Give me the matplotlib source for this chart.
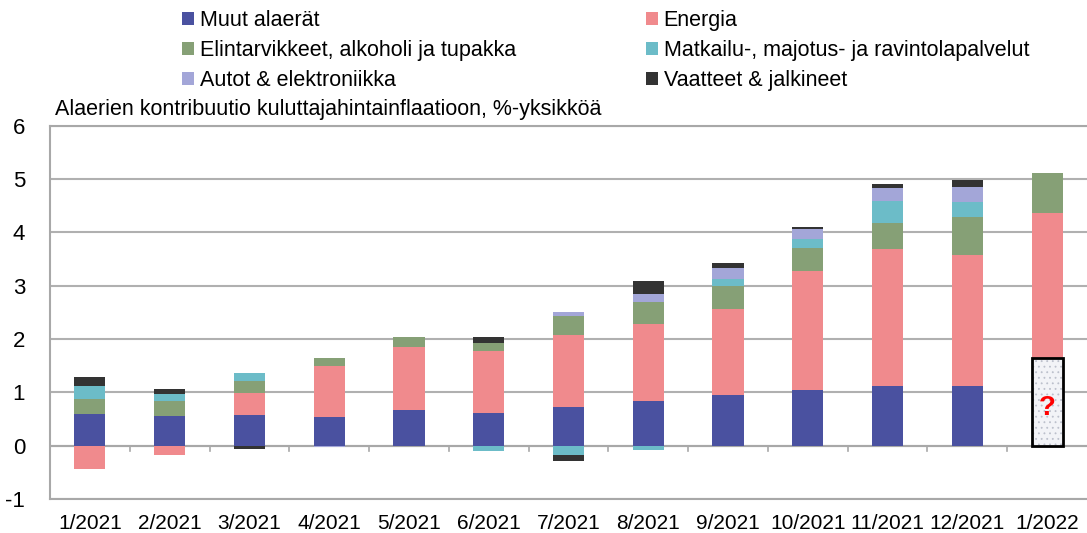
import numpy as np
import matplotlib.pyplot as plt

plt.rcParams['font.family'] = ['Liberation Sans', 'DejaVu Sans']
plt.rcParams['axes.unicode_minus'] = False
plt.rcParams['hatch.linewidth'] = 0.6

# Data (%-points)
months = ["1/2021", "2/2021", "3/2021", "4/2021", "5/2021", "6/2021", "7/2021",
          "8/2021", "9/2021", "10/2021", "11/2021", "12/2021", "1/2022"]

muut = [0.59, 0.55, 0.57, 0.53, 0.66, 0.61, 0.72, 0.84, 0.94, 1.05, 1.11, 1.11, np.nan]
energia = [-0.43, -0.17, 0.41, 0.97, 1.19, 1.16, 1.35, 1.44, 1.62, 2.22, 2.57, 2.46, 2.72]
elintarvikkeet = [0.29, 0.28, 0.24, 0.15, 0.19, 0.16, 0.36, 0.41, 0.44, 0.44, 0.49, 0.71, 0.76]
matkailu = [0.24, 0.13, 0.14, 0.0, 0.0, -0.11, -0.17, -0.08, 0.13, 0.17, 0.42, 0.29, 0.0]
autot = [0.0, 0.0, 0.0, -0.025, 0.0, 0.0, 0.08, 0.16, 0.20, 0.19, 0.25, 0.28, 0.0]
vaatteet = [0.175, 0.105, -0.06, 0.0, 0.0, 0.10, -0.12, 0.24, 0.09, 0.04, 0.06, 0.14, 0.0]
unknown = [np.nan] * 12 + [1.64]  # the "?" block of 1/2022

series = [
    ("Muut alaerät", muut, "#4a51a0"),
    ("Energia", energia, "#f08a8d"),
    ("Elintarvikkeet, alkoholi ja tupakka", elintarvikkeet, "#86a076"),
    ("Matkailu-, majotus- ja ravintolapalvelut", matkailu, "#6cbcc8"),
    ("Autot & elektroniikka", autot, "#a3a6d8"),
    ("Vaatteet & jalkineet", vaatteet, "#333333"),
]

fig = plt.figure(figsize=(10.87, 5.33), dpi=100)
ax = fig.add_axes([0.046, 0.064, 0.954, 0.7])

x = np.arange(len(months))
width = 0.39
pos_base = np.nan_to_num(np.array(unknown, dtype=float))
neg_base = np.zeros(len(months))

# the "?" block sits at the bottom of the last bar: light stipple + black frame
ax.bar(x, unknown, width, color="#f2f3f7", edgecolor="#bcc0cc", linewidth=0,
       hatch="...", zorder=3)
ax.bar(x, unknown, width, fill=False, edgecolor="black", linewidth=2, zorder=3.5)

handles = []
for name, vals, col in series:
    v = np.nan_to_num(np.array(vals, dtype=float))
    pos = np.where(v > 0, v, 0)
    neg = np.where(v < 0, v, 0)
    h = ax.bar(x, pos, width, bottom=pos_base, color=col, label=name, zorder=3)
    ax.bar(x, neg, width, bottom=neg_base, color=col, zorder=3)
    pos_base += pos
    neg_base += neg
    handles.append(h)

ax.text(x[-1], 0.70, "?", color="red", fontsize=20, fontweight="bold",
        ha="center", va="center", zorder=4)

ax.set_xlim(-0.5, len(months) - 0.5)
ax.set_ylim(-1, 6)
ax.set_yticks(range(-1, 7))
ax.yaxis.grid(True, color="#b0b0b0", linewidth=1.5, zorder=0)
ax.set_axisbelow(True)
ax.axhline(0, color="#a8a8a8", linewidth=1.5, zorder=2)

# small ticks on the zero line between categories
for b in x[:-1] + 0.5:
    ax.plot([b, b], [0, -0.1], color="#a8a8a8", linewidth=1.2, zorder=2)

ax.set_xticks(x)
ax.set_xticklabels(months)
ax.tick_params(axis="x", length=0, pad=11, labelsize=15)
ax.tick_params(axis="y", length=0, pad=18, labelsize=16)
for s in ax.spines.values():
    s.set_color("#a8a8a8")
    s.set_linewidth(1.5)
ax.spines["right"].set_visible(False)

fig.text(0.051, 0.775, "Alaerien kontribuutio kuluttajahintainflaatioon, %-yksikköä",
         fontsize=15.5, ha="left", va="bottom")

# legend is filled row by row in the reference
order = [0, 2, 4, 1, 3, 5]
fig.legend(handles=[handles[i] for i in order], loc="upper left",
           bbox_to_anchor=(0.150, 1.018), ncol=2, frameon=False, fontsize=15.5,
           handlelength=0.55, handleheight=0.55, handletextpad=0.25,
           columnspacing=6.07, labelspacing=0.42)

fig.savefig("out.png", dpi=100)
